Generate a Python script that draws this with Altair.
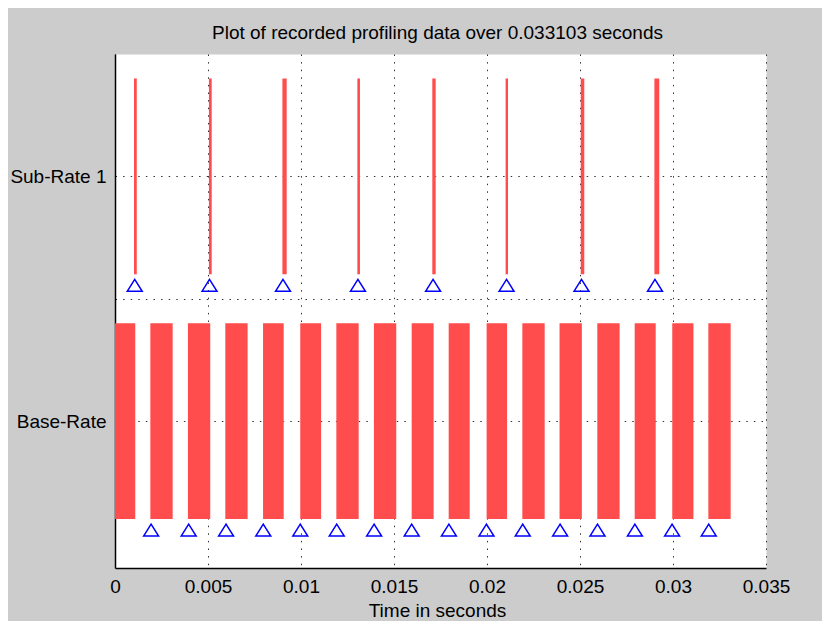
import altair as alt
import pandas as pd

# ---- data ----
base_start = [0.0, 0.0019, 0.00392, 0.00593, 0.00796, 0.00996, 0.0119, 0.01392, 0.01595,
              0.01794, 0.01998, 0.0219, 0.0239, 0.02593, 0.02794, 0.02996, 0.0319]
base_end = [0.00109, 0.0031, 0.00512, 0.00713, 0.00907, 0.01108, 0.0131, 0.01512, 0.01713,
            0.01907, 0.02108, 0.0231, 0.0251, 0.02713, 0.02907, 0.0311, 0.0331]
base_marks = [0.00194, 0.00396, 0.00597, 0.00797, 0.00996, 0.01192, 0.01393, 0.01595,
              0.01795, 0.01997, 0.02192, 0.02393, 0.02594, 0.02795, 0.02995, 0.03192]
sub_start = [0.00102, 0.00505, 0.009, 0.01303, 0.01706, 0.021, 0.02504, 0.029]
sub_end = [0.00117, 0.0052, 0.00923, 0.01317, 0.01724, 0.02113, 0.02523, 0.02926]
sub_marks = [0.00106, 0.00508, 0.00903, 0.01306, 0.01710, 0.02105, 0.02508, 0.02903]

row_values = [1, 2]
row_labels = ["Base-Rate", "Sub-Rate 1"]
x_ticks = [0, 0.005, 0.01, 0.015, 0.02, 0.025, 0.03, 0.035]
title_text = "Plot of recorded profiling data over 0.033103 seconds"
x_title = "Time in seconds"

# ---- tables ----
half = 0.4
bars = pd.DataFrame(
    [{"start": s, "end": e, "y0": 1 - half, "y1": 1 + half} for s, e in zip(base_start, base_end)]
    + [{"start": s, "end": e, "y0": 2 - half, "y1": 2 + half} for s, e in zip(sub_start, sub_end)]
)
marks = pd.DataFrame(
    [{"start": t, "y0": 1 - 0.445} for t in base_marks]
    + [{"start": t, "y0": 2 - 0.445} for t in sub_marks]
)

FONT = "Liberation Sans"
label_expr = " : ".join(
    f"datum.value == {v} ? '{l}'" for v, l in zip(row_values, row_labels)
) + " : ''"

xscale = alt.Scale(domain=[0, 0.035], nice=False, zero=False)
yscale = alt.Scale(domain=[0.4, 2.5], nice=False, zero=False)

xaxis = alt.Axis(
    values=x_ticks, format="~g", title=x_title, grid=True, ticks=False, tickSize=0,
    labelPadding=9, labelFont=FONT, labelFontSize=19, labelColor="black",
    titleFont=FONT, titleFontSize=19, titleFontWeight="normal", titleColor="black",
    titleBaseline="alphabetic", titleY=48, titleX=322,
    domainColor="black", domainWidth=1.5,
    gridColor="black", gridDash=[1.5, 6.1], gridWidth=1, gridOpacity=0.8,
    labelFlush=False, labelOverlap=False,
)
yaxis = alt.Axis(
    values=[1, 1.5, 2], labelExpr=label_expr, title="", grid=True, ticks=False, tickSize=0,
    labelPadding=9, labelFont=FONT, labelFontSize=19, labelColor="black",
    domainColor="black", domainWidth=1.5,
    gridColor="black", gridDash=[1.5, 6.1], gridWidth=1, gridOpacity=0.8,
    labelOverlap=False,
)

rects = alt.Chart(bars).mark_rect(color="#ff4c4c").encode(
    x=alt.X("start:Q", scale=xscale, axis=xaxis),
    x2="end:Q",
    y=alt.Y("y0:Q", scale=yscale, axis=yaxis),
    y2="y1:Q",
)

tri = alt.Chart(marks).mark_point(
    shape="M-1,0.8L0,-0.8L1,0.8Z", size=225, filled=False,
    stroke="#0000ff", strokeWidth=1.5, opacity=1,
).encode(
    x=alt.X("start:Q", scale=xscale, axis=xaxis),
    y=alt.Y("y0:Q", scale=yscale, axis=yaxis),
)

chart = alt.layer(rects, tri).properties(
    width=651, height=514,
    autosize=alt.AutoSizeParams(type="none"),
    padding={"left": 107, "top": 46, "right": 56, "bottom": 53},
    background="#cccccc",
    title=alt.TitleParams(
        title_text, font=FONT, fontSize=19, fontWeight="normal", color="black",
        baseline="alphabetic", offset=15, anchor="middle", dx=-3, dy=19,
    ),
).configure_view(fill="white", stroke="transparent")

chart.save("out.html", embed_options={"renderer": "svg", "actions": False})
